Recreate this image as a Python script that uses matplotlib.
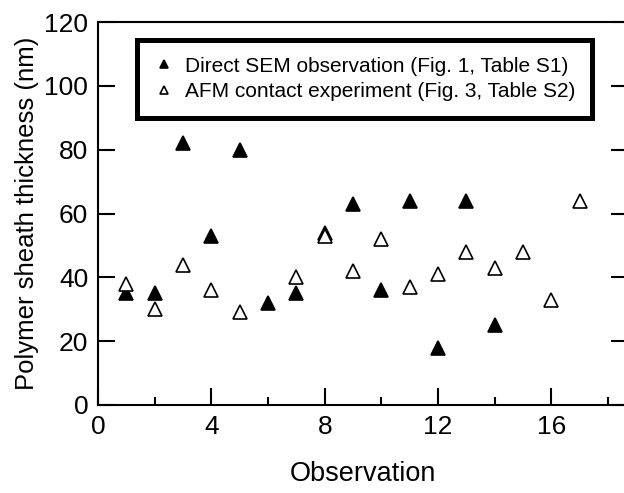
import matplotlib
matplotlib.use("Agg")
import matplotlib.pyplot as plt
from matplotlib.ticker import MultipleLocator

plt.rcParams['font.family'] = ['Liberation Sans', 'DejaVu Sans']

# Data
sem_x = [1, 2, 3, 4, 5, 6, 7, 8, 9, 10, 11, 12, 13, 14]
sem_y = [35, 35, 82, 53, 80, 32, 35, 54, 63, 36, 64, 18, 64, 25]
afm_x = [1, 2, 3, 4, 5, 7, 8, 9, 10, 11, 12, 13, 14, 15, 16, 17]
afm_y = [38, 30, 44, 36, 29, 40, 53, 42, 52, 37, 41, 48, 43, 48, 33, 64]
sem_label = "Direct SEM observation (Fig. 1, Table S1)"
afm_label = "AFM contact experiment (Fig. 3, Table S2)"
x_label = "Observation"
y_label = "Polymer sheath thickness (nm)"

W, H = 624, 493
fig = plt.figure(figsize=(W / 100, H / 100), dpi=100)
left, right, top, bottom = 98, 628, 22, 405
ax = fig.add_axes([left / W, 1 - bottom / H, (right - left) / W, (bottom - top) / H])

ax.plot(sem_x, sem_y, linestyle='none', marker='^', markersize=9.5,
        markerfacecolor='black', markeredgecolor='black', markeredgewidth=1.2, label=sem_label)
ax.plot(afm_x, afm_y, linestyle='none', marker='^', markersize=9.5,
        markerfacecolor='white', markeredgecolor='black', markeredgewidth=1.2, label=afm_label)

ax.set_xlim(0, 18.7)
ax.set_ylim(0, 120)
ax.xaxis.set_major_locator(MultipleLocator(4))
ax.xaxis.set_minor_locator(MultipleLocator(2))
ax.yaxis.set_major_locator(MultipleLocator(20))

for s in ax.spines.values():
    s.set_linewidth(1.5)

ax.tick_params(axis='both', which='major', direction='in', length=12, width=1.5,
               labelsize=19, pad=7, colors='black')
ax.tick_params(axis='x', which='minor', direction='in', length=6, width=1.5)
ax.tick_params(axis='y', which='both', right=True)

ax.set_xlabel(x_label, fontsize=19.5, labelpad=16)
ax.set_ylabel(y_label, fontsize=18.5, labelpad=4)

leg = ax.legend(loc='upper left', bbox_to_anchor=(137 / W, 1 - 40 / H),
                bbox_transform=fig.transFigure, borderaxespad=0,
                fontsize=15, markerscale=0.62, handlelength=1.0, handletextpad=0.5,
                borderpad=0.8, labelspacing=0.3, fancybox=False, framealpha=1,
                edgecolor='black')
leg.get_frame().set_linewidth(3.6)

fig.savefig("out.png", dpi=100)
